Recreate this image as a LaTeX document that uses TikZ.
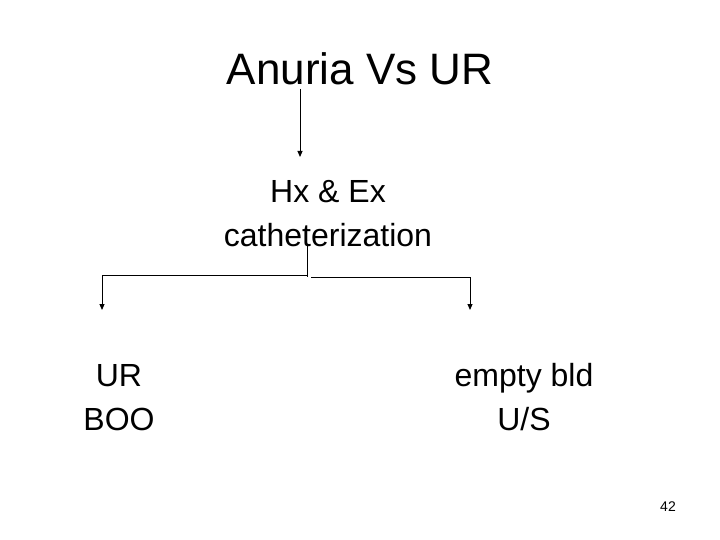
\documentclass[tikz,border=0pt]{standalone}
\usepackage{fontspec}
\setmainfont{Liberation Sans}
\usetikzlibrary{arrows.meta}

\begin{document}
\begin{tikzpicture}[
    x=1pt,y=-1pt,
    heading/.style={font=\fontsize{44}{53}\selectfont,inner sep=0pt,anchor=base},
    stage/.style={font=\fontsize{32}{44}\selectfont,align=center,inner sep=0pt,anchor=base},
    pagenum/.style={font=\fontsize{14}{17}\selectfont,inner sep=0pt,anchor=base},
    link/.style={-{Triangle[length=6pt,width=5pt]},line width=1pt},
    branch/.style={line width=1pt}
]
\useasboundingbox (0,0) rectangle (720,540);
\node[heading] (title) at (360,85) {Anuria Vs UR};
\node[stage] (hxex) at (328,247) {Hx \& Ex\\catheterization};
\node[stage] (boo) at (119,430) {UR\\BOO};
\node[stage] (us) at (524,430) {empty bld\\U/S};
\node[pagenum] (page) at (668,511) {42};

% connectors
\coordinate (drop) at (300,89);
\coordinate (split) at (307,246);
\coordinate (leftarm) at (307,275);
\coordinate (rightarm) at (311,277);
\coordinate (lefttip) at (102,310);
\coordinate (righttip) at (470,310);
\draw[link] (drop) -- (drop |- 0,157);
\draw[branch] (split) -- (split |- 0,277);
\draw[link] (leftarm) -| (lefttip);
\draw[link] (rightarm) -| (righttip);
\end{tikzpicture}
\end{document}
